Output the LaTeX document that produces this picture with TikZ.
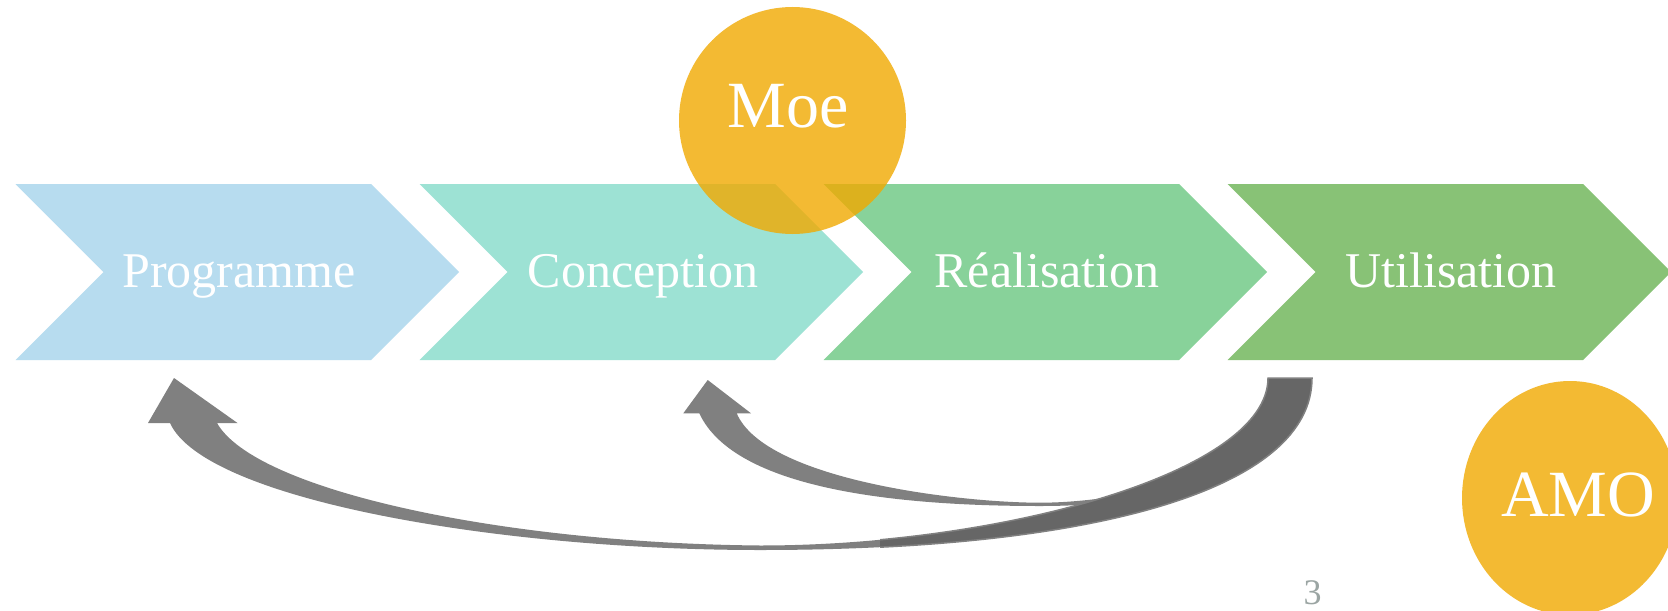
\documentclass[tikz,border=0pt]{standalone}
\usepackage{fontspec}
\setmainfont{Liberation Serif}
\usetikzlibrary{shapes.geometric}
\definecolor{progblue}{RGB}{183,220,239}
\definecolor{concteal}{RGB}{157,226,212}
\definecolor{realgreen}{RGB}{136,210,154}
\definecolor{utilgreen}{RGB}{136,194,118}
\definecolor{roleyellow}{RGB}{241,169,0}
\definecolor{arrowlight}{RGB}{128,128,128}
\definecolor{arrowdark}{RGB}{102,102,102}
\definecolor{pagegray}{RGB}{155,165,163}
\tikzset{
  phase/.style={text=white, anchor=base, font=\fontsize{25}{30}\selectfont},
  role/.style={fill=roleyellow, fill opacity=0.8, draw=none, inner sep=0pt},
  rolelabel/.style={text=white, anchor=base, font=\fontsize{33}{40}\selectfont},
  arrowfront/.style={fill=arrowlight},
  arrowback/.style={fill=arrowdark, draw=arrowlight, line width=0.75pt},
}
\begin{document}
\begin{tikzpicture}[x=0.5pt, y=-0.5pt]
  \useasboundingbox (0,0) rectangle (1668,610);
  \clip (0,0) rectangle (1668,610);
  \fill[white] (0,0) rectangle (1668,610);
  \fill[progblue] (15.5,184) -- ++(355.5,0) -- ++(88,88) -- ++(-88,88) -- ++(-355.5,0) -- ++(88,-88) -- cycle;
  \fill[concteal] (419.5,184) -- ++(355.5,0) -- ++(88,88) -- ++(-88,88) -- ++(-355.5,0) -- ++(88,-88) -- cycle;
  \fill[realgreen] (823.5,184) -- ++(355.5,0) -- ++(88,88) -- ++(-88,88) -- ++(-355.5,0) -- ++(88,-88) -- cycle;
  \fill[utilgreen] (1227.5,184) -- ++(355.5,0) -- ++(88,88) -- ++(-88,88) -- ++(-355.5,0) -- ++(88,-88) -- cycle;
  \node[phase] (prog) at (239,287) {Programme};
  \node[phase] (conc) at (643,287) {Conception};
  \node[phase] (real) at (1047,287) {Réalisation};
  \node[phase] (util) at (1451,287) {Utilisation};
  \fill[arrowfront] (707.7,380) -- (683.3,413.3) -- (699.3,413.3)
    .. controls (735,490) and (900,506) .. (1040,506)
    .. controls (1110,506) and (1160,497) .. (1200,486)
    -- (1200,479)
    .. controls (1150,492) and (1090,502.7) .. (1040,502.7)
    .. controls (960,502.7) and (765,480) .. (736.7,413.3)
    -- (751,413.3) -- cycle;
  \fill[arrowfront] (174,378) -- (148,423) -- (170,423)
    .. controls (205,500) and (500,550) .. (760,550)
    .. controls (1100,550) and (1312,488) .. (1312,378)
    -- (1268,378)
    .. controls (1268,473) and (1000,545.5) .. (760,545.5)
    .. controls (500,543) and (255,490) .. (217,423)
    -- (237.5,423) -- cycle;
  \begin{scope}
    \clip (880,360) rectangle (1400,610);
    \filldraw[arrowback] (760,550)
      .. controls (1100,550) and (1312,488) .. (1312,378)
      -- (1268,378)
      .. controls (1268,473) and (1000,545.5) .. (760,545.5)
      -- cycle;
  \end{scope}
  \node[role, circle, minimum size=113.5pt] (moecircle) at (792.5,120.5) {};
  \node[rolelabel] (moe) at (788,127) {Moe};
  \node[role, ellipse, minimum width=108pt, minimum height=117pt] (amocircle) at (1570,498) {};
  \node[rolelabel] (amo) at (1578,516) {AMO};
  \node[text=pagegray, anchor=base, inner sep=0pt, font=\fontsize{18}{20}\selectfont] (page) at (1312.5,604) {3};
\end{tikzpicture}
\end{document}
